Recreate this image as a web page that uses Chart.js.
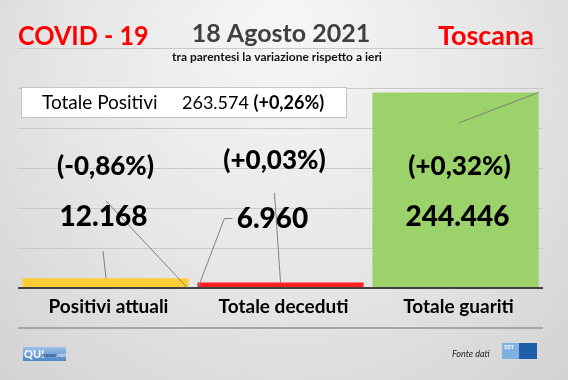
<!DOCTYPE html>
<html><head><meta charset="utf-8">
<script src="https://cdn.jsdelivr.net/npm/chart.js@4/dist/chart.umd.min.js"></script>
<style>html,body{margin:0;padding:0;background:#e2e2e2;}canvas{display:block;}</style>
</head><body>
<div style="width:568px;height:380px;position:relative"><canvas id="c" width="568" height="380"></canvas></div>
<script>
const categories = ['Positivi attuali', 'Totale deceduti', 'Totale guariti'];
const values = [12168, 6960, 244446];
const valueLabels = ['12.168', '6.960', '244.446'];
const changeLabels = ['(-0,86%)', '(+0,03%)', '(+0,32%)'];
const barColors = ['#FFCC36', '#FF2121', '#9BD26A'];
const yTicks = [-50000, 0, 50000, 100000, 150000, 200000, 250000, 300000];
const totalLabel = 'Totale Positivi';
const totalValue = '263.574';
const totalChange = '(+0,26%)';
const titleLeft = 'COVID - 19';
const titleDate = '18 Agosto 2021';
const subtitle = 'tra parentesi la variazione rispetto a ieri';
const titleRight = 'Toscana';
const sourceText = 'Fonte dati';

const F = "Lato, 'Open Sans', 'Liberation Sans', sans-serif";

const bgPlugin = {
  id: 'bg',
  beforeDraw(chart) {
    const c = chart.ctx, w = chart.width, h = chart.height;
    c.save();
    const g = c.createRadialGradient(w*0.5, h*0.05, 10, w*0.5, h*0.3, w*0.75);
    g.addColorStop(0, '#f6f6f6');
    g.addColorStop(0.5, '#e6e6e6');
    g.addColorStop(1, '#cfcfcf');
    c.fillStyle = g;
    c.fillRect(0, 0, w, h);
    c.restore();
  }
};

function textSX(c, txt, x, y, sx) {
  c.save();
  c.translate(x, y);
  c.scale(sx, 1);
  c.fillText(txt, 0, 0);
  c.restore();
}

const textPlugin = {
  id: 'texts',
  afterDraw(chart) {
    const c = chart.ctx;
    const meta = chart.getDatasetMeta(0);
    const y = chart.scales.y;
    const base = y.getPixelForValue(0);
    c.save();
    // titles
    c.textBaseline = 'middle';
    c.textAlign = 'left';
    c.fillStyle = '#FF0000';
    c.font = 'bold 27px ' + F;
    textSX(c, titleLeft, 18, 36, 0.93);
    c.textAlign = 'right';
    c.fillText(titleRight, 534, 36);
    c.textAlign = 'center';
    c.fillStyle = '#404040';
    c.font = 'bold 25px ' + F;
    c.fillText(titleDate, 281, 34);
    c.fillStyle = '#111';
    c.font = 'bold 12px ' + F;
    c.fillText(subtitle, 277, 57);

    // total box
    c.fillStyle = '#ffffff';
    c.fillRect(21, 87, 326, 31);
    c.strokeStyle = '#c4c4c4';
    c.lineWidth = 1;
    c.strokeRect(21.5, 87.5, 325, 30);
    c.textAlign = 'left';
    c.fillStyle = '#000';
    c.font = '19px ' + F;
    c.fillText(totalLabel, 42, 103);
    c.font = '18px ' + F;
    c.fillText(totalValue, 182, 103);
    const tw = c.measureText(totalValue + ' ').width;
    c.font = 'bold 18px ' + F;
    c.fillText(totalChange, 182 + tw, 103);

    // leader lines
    c.strokeStyle = '#808080';
    c.lineWidth = 1;
    const b = meta.data.map(el => {
      const p = el.getProps(['x', 'y', 'width', 'base'], true);
      return {x: p.x, y: p.y, l: p.x - p.width/2, r: p.x + p.width/2};
    });
    const line = pts => { c.beginPath(); c.moveTo(pts[0][0], pts[0][1]); for (let i=1;i<pts.length;i++) c.lineTo(pts[i][0], pts[i][1]); c.stroke(); };
    line([[b[0].x - 2.5, 251], [b[0].x + 0.5, b[0].y]]);
    line([[b[0].x + 0.5, 201], [b[0].r - 1, base]]);
    line([[b[1].l + 35, 218.5], [b[1].l + 27, 218.5], [b[1].l + 1, base - 1]]);
    line([[b[1].x - 6, 193], [b[1].x, b[1].y]]);
    line([[b[2].x + 3, 123], [b[2].r, b[2].y]]);

    // labels
    c.textAlign = 'center';
    c.fillStyle = '#000';
    const pctY = [167, 161, 167];
    const valY = [217, 219, 217];
    const dx = [-2, -8, 2];
    for (let i = 0; i < values.length; i++) {
      c.font = '900 26px ' + F;
      c.fillText(changeLabels[i], b[i].x + dx[i] + 2, pctY[i]);
      c.font = '900 28px ' + F;
      c.fillText(valueLabels[i], b[i].x + dx[i], valY[i]);
      c.font = 'bold 19px ' + F;
      c.fillText(categories[i], b[i].x + 3, y.getPixelForValue(-23000));
    }

    // footer
    c.font = 'italic 9px ' + F;
    c.fillStyle = '#222';
    c.textAlign = 'left';
    c.fillText(sourceText, 452, 354);
    // QUInews logo
    const lg = c.createLinearGradient(0, 347, 0, 361);
    lg.addColorStop(0, '#9cc0e8'); lg.addColorStop(1, '#4f86c6');
    c.fillStyle = lg;
    c.fillRect(23, 347, 43, 14);
    c.fillStyle = '#fff';
    c.font = 'bold 11px ' + F;
    c.fillText('QUI', 24, 354);
    c.fillStyle = '#2a4f80';
    c.font = 'bold 6px ' + F;
    c.fillText('news', 42, 355);
    c.fillStyle = '#cfe0f4';
    c.fillText('.net', 56, 355);
    // SST logo
    c.fillStyle = '#7fb0e0';
    c.fillRect(502, 343, 17, 16);
    c.fillStyle = '#1f5ea8';
    c.fillRect(519, 343, 18, 16);
    c.fillStyle = '#fff';
    c.font = 'bold 6px ' + F;
    c.fillText('SST', 504, 347);
    c.restore();
  }
};

new Chart(document.getElementById('c'), {
  type: 'bar',
  data: {
    labels: categories,
    datasets: [{
      data: values,
      backgroundColor: barColors,
      borderWidth: 0,
      barPercentage: 0.95,
      categoryPercentage: 1
    }]
  },
  options: {
    responsive: false,
    animation: false,
    devicePixelRatio: 1,
    layout: { padding: { left: 18, right: 25, top: 48, bottom: 52 } },
    plugins: { legend: { display: false }, tooltip: { enabled: false } },
    scales: {
      x: { display: false },
      y: {
        min: yTicks[0], max: yTicks[yTicks.length - 1],
        afterBuildTicks: s => { s.ticks = yTicks.map(v => ({ value: v })); },
        ticks: { display: false },
        border: { display: false },
        grid: {
          drawTicks: false,
          color: ctx => ctx.tick && ctx.tick.value === 0 ? '#404040' : (ctx.tick && ctx.tick.value === yTicks[0] ? '#a6a6a6' : '#c9c9c9'),
          lineWidth: ctx => ctx.tick && (ctx.tick.value === 0 || ctx.tick.value === yTicks[0]) ? 2 : 1,
          z: 0
        }
      }
    }
  },
  plugins: [bgPlugin, textPlugin]
});
</script>
</body></html>
